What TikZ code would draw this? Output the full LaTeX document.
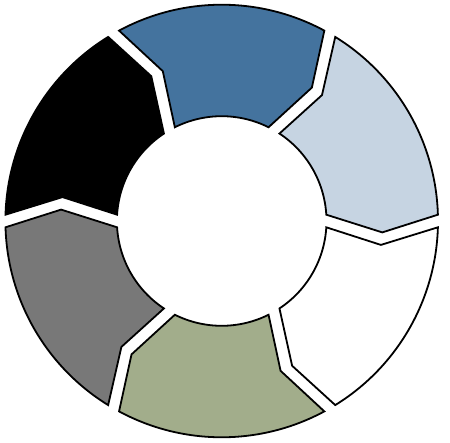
\documentclass[tikz,border=0pt]{standalone}
\usepackage{xcolor,tikz}
\definecolor{partblue}{HTML}{44739E}
\definecolor{partlight}{HTML}{C6D4E2}
\definecolor{partgreen}{HTML}{A2AD8B}
\definecolor{partgray}{HTML}{787878}

\begin{document}
\begin{tikzpicture}[x=1pt, y=1pt, part/.style={draw=black, line width=1.8pt, line join=miter}]
			\useasboundingbox (-221.7, -221) rectangle (228.3, 221);
			\draw[part, fill=partblue] (118.33:216.3) arc[start angle=118.33, end angle=61.67, radius=216.3] -- (55.94:161) -- (63.45:104.8) arc[start angle=63.45, end angle=116.55, radius=104.8] -- (111.46:161) -- cycle;
			\draw[part, fill=partlight] (58.33:216.3) arc[start angle=58.33, end angle=1.67, radius=216.3] -- (-4.06:161) -- (3.45:104.8) arc[start angle=3.45, end angle=56.55, radius=104.8] -- (51.46:161) -- cycle;
			\draw[part, fill=white] (-1.67:216.3) arc[start angle=-1.67, end angle=-58.33, radius=216.3] -- (-64.06:161) -- (-56.55:104.8) arc[start angle=-56.55, end angle=-3.45, radius=104.8] -- (-8.54:161) -- cycle;
			\draw[part, fill=partgreen] (-61.67:216.3) arc[start angle=-61.67, end angle=-118.33, radius=216.3] -- (-124.06:161) -- (-116.55:104.8) arc[start angle=-116.55, end angle=-63.45, radius=104.8] -- (-68.54:161) -- cycle;
			\draw[part, fill=partgray] (-121.67:216.3) arc[start angle=-121.67, end angle=-178.33, radius=216.3] -- (-184.06:161) -- (-176.55:104.8) arc[start angle=-176.55, end angle=-123.45, radius=104.8] -- (-128.54:161) -- cycle;
			\draw[part, fill=black] (178.33:216.3) arc[start angle=178.33, end angle=121.67, radius=216.3] -- (115.94:161) -- (123.45:104.8) arc[start angle=123.45, end angle=176.55, radius=104.8] -- (171.46:161) -- cycle;
		\end{tikzpicture}
\end{document}
